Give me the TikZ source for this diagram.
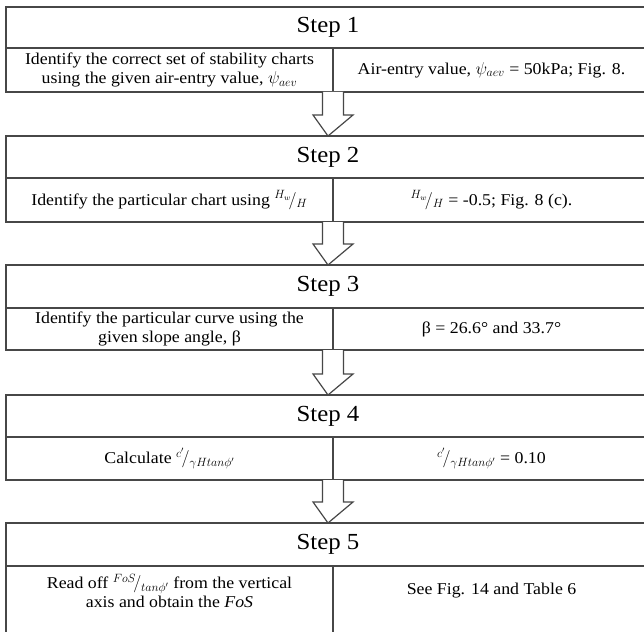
\documentclass[tikz,border=0pt]{standalone}
\usepackage{fontspec}
\setmainfont[FakeStretch=1.08]{Liberation Serif}
\usetikzlibrary{calc}
\tikzset{
  cell/.style={draw=black!72, line width=1.3pt, inner sep=0pt, outer sep=0pt, align=center, font=\fontsize{16.5}{19.5}\selectfont},
  hdr/.style={cell, font=\fontsize{23}{26}\selectfont},
  blockarr/.style={draw=black!72, line width=1.2pt, fill=white, line join=miter},
}
\newcommand{\blockarrow}[2]{%
  \draw[blockarr] let \p1=(#1), \p2=(#2) in
    (\x1-10.5pt,\y1) -- (\x1-10.5pt,\y2+21pt) -- (\x1-20pt,\y2+21pt) -- (\x2,\y2)
    -- (\x1+20pt,\y2+21pt) -- (\x1+10.5pt,\y2+21pt) -- (\x1+10.5pt,\y1);}
\newcommand{\sfrac}[2]{\mbox{$^{#1}\!/_{#2}$}}
\begin{document}
\begin{tikzpicture}[x=1pt,y=-1pt]
\useasboundingbox (0,0) rectangle (644,631);
\clip (0,0) rectangle (644,631);
\fill[white] (0,0) rectangle (644,631);

% Step 1
\node[hdr, minimum width=644, minimum height=41] (h1) at (328,27.5) {Step 1};
\node[cell, minimum width=327, minimum height=44] (l1) at (169.5,70)
  {Identify the correct set of stability charts\\using the given air-entry value, $\psi_{aev}$};
\node[cell, minimum width=317, minimum height=44] (r1) at (491.5,70)
  {Air-entry value, $\psi_{aev}$ = 50kPa; Fig. 8.};

% Step 2
\node[hdr, minimum width=644, minimum height=42] (h2) at (328,157) {Step 2};
\node[cell, minimum width=327, minimum height=44] (l2) at (169.5,200)
  {Identify the particular chart using \sfrac{H_w}{H}};
\node[cell, minimum width=317, minimum height=44] (r2) at (491.5,200)
  {\sfrac{H_w}{H} = -0.5; Fig. 8 (c).};

% Step 3
\node[hdr, minimum width=644, minimum height=43] (h3) at (328,286.5) {Step 3};
\node[cell, minimum width=327, minimum height=42] (l3) at (169.5,329)
  {Identify the particular curve using the\\given slope angle, β};
\node[cell, minimum width=317, minimum height=42] (r3) at (491.5,329)
  {β = 26.6° and 33.7°};

% Step 4
\node[hdr, minimum width=644, minimum height=42] (h4) at (328,416) {Step 4};
\node[cell, minimum width=327, minimum height=43] (l4) at (169.5,458.5)
  {Calculate \sfrac{c'}{\gamma H tan\phi'}};
\node[cell, minimum width=317, minimum height=43] (r4) at (491.5,458.5)
  {\sfrac{c'}{\gamma H tan\phi'} = 0.10};

% Step 5
\node[hdr, minimum width=644, minimum height=43] (h5) at (328,544.5) {Step 5};
\node[cell, minimum width=327, minimum height=74] (l5) at (169.5,603) {};
\node[cell, minimum width=317, minimum height=74] (r5) at (491.5,603) {};
\node[cell, draw=none] (l5t) at (169.5,591)
  {Read off \sfrac{FoS}{tan\phi'} from the vertical\\axis and obtain the \textit{FoS}};
\node[cell, draw=none] (r5t) at (491.5,591) {See Fig. 14 and Table 6};

% block arrows
\blockarrow{l1.south east}{h2.north}
\blockarrow{l2.south east}{h3.north}
\blockarrow{l3.south east}{h4.north}
\blockarrow{l4.south east}{h5.north}
\end{tikzpicture}
\end{document}
